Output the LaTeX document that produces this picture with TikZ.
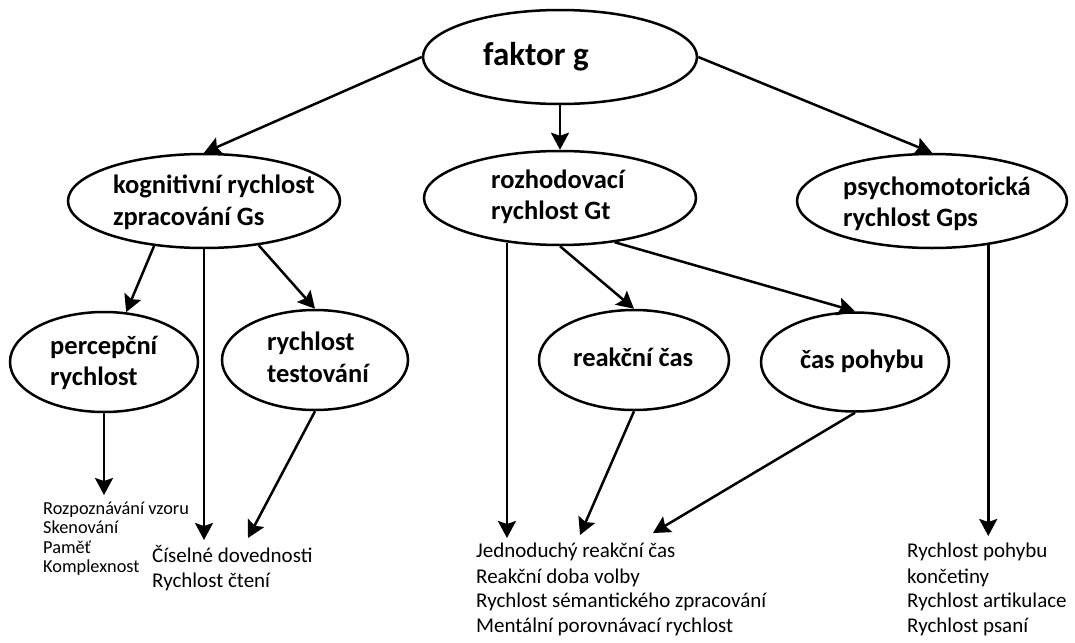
\documentclass[tikz,border=0pt]{standalone}
\usepackage{fontspec}
\setmainfont{Carlito}
\usetikzlibrary{shapes.geometric,arrows.meta}
\begin{document}
\begin{tikzpicture}[x=1pt,y=-1pt,
  oval/.style={ellipse, draw, line width=2.5pt, inner sep=0pt},
  arr/.style={-{Stealth[length=17pt,width=18pt,inset=3pt]}, line width=2.5pt},
  ttl/.style={anchor=base west, inner sep=0pt, font={\fontsize{33}{39}\selectfont\bfseries}},
  lbl/.style={anchor=base west, inner sep=0pt, font={\fontsize{26.5}{31}\selectfont\bfseries}},
  item/.style={anchor=base west, inner sep=0pt, font={\fontsize{21}{25}\selectfont}},
  small/.style={anchor=base west, inner sep=0pt, font={\fontsize{18.3}{20}\selectfont}}
]
\useasboundingbox (0,0) rectangle (1075,642);
% ellipses
\node[oval, minimum width=274pt, minimum height=94pt] (g) at (560,57) {};
\node[oval, minimum width=272pt, minimum height=94pt] (kog) at (204,201) {};
\node[oval, minimum width=272pt, minimum height=94pt] (rozh) at (560,198) {};
\node[oval, minimum width=270pt, minimum height=94pt] (psy) at (932,201) {};
\node[oval, minimum width=188pt, minimum height=100pt] (perc) at (104,362) {};
\node[oval, minimum width=186pt, minimum height=100pt] (test) at (315,360) {};
\node[oval, minimum width=190pt, minimum height=100pt] (reak) at (634,360) {};
\node[oval, minimum width=188pt, minimum height=99pt] (cas) at (855,362) {};
% labels
\node[ttl] (tg) at (483,66) {faktor g};
\node[lbl] (k1) at (113,193) {kognitivní rychlost};
\node[lbl] (k2) at (113,225) {zpracování Gs};
\node[lbl] (r1) at (491,188) {rozhodovací};
\node[lbl] (r2) at (491,219) {rychlost Gt};
\node[lbl] (p1) at (843,195) {psychomotorická};
\node[lbl] (p2) at (843,226) {rychlost Gps};
\node[lbl] (pc1) at (50,354) {percepční};
\node[lbl] (pc2) at (50,385) {rychlost};
\node[lbl] (ts1) at (267,350) {rychlost};
\node[lbl] (ts2) at (267,382) {testování};
\node[lbl] (rc) at (573,366) {reakční čas};
\node[lbl] (cp) at (800,368) {čas pohybu};
% lower texts
\node[small] (s1) at (43,514) {Rozpoznávání vzoru};
\node[small] (s2) at (43,533) {Skenování};
\node[small] (s3) at (43,553) {Paměť};
\node[small] (s4) at (43,572) {Komplexnost};
\node[item] (c1) at (152,562) {Číselné dovednosti};
\node[item] (c2) at (152,587) {Rychlost čtení};
\node[item] (m1) at (476,557) {Jednoduchý reakční čas};
\node[item] (m2) at (476,583) {Reakční doba volby};
\node[item] (m3) at (476,607) {Rychlost sémantického zpracování};
\node[item] (m4) at (476,632) {Mentální porovnávací rychlost};
\node[item] (q1) at (907,557) {Rychlost pohybu};
\node[item] (q2) at (907,583) {končetiny};
\node[item] (q3) at (907,607) {Rychlost artikulace};
\node[item] (q4) at (907,632) {Rychlost psaní};
% arrow tips
\coordinate (tP) at (104,495);
\coordinate (tK) at (204,540);
\coordinate (tT) at (248,538);
\coordinate (tR) at (508,538);
\coordinate (tRe) at (580,535);
\coordinate (tC) at (653,533);
\coordinate (tPs) at (987,536);
% connectors
\draw[arr] (g.west) -- (kog.north);
\draw[arr] (g.south) -- (rozh.north);
\draw[arr] (g.east) -- (psy.north);
\draw[arr] (kog.222) -- (perc.66);
\draw[arr] (kog.south) -- (kog.south |- tK);
\draw[arr] (kog.321) -- (test.north);
\draw[arr] (perc.south) -- (perc.south |- tP);
\draw[arr] (test.south) -- (tT);
\draw[arr] (rozh.220) -- (rozh.220 |- tR);
\draw[arr] (rozh.south) -- (reak.north);
\draw[arr] (rozh.321) -- (cas.north);
\draw[arr] (reak.south) -- (tRe);
\draw[arr] (cas.south) -- (tC);
\draw[arr] (psy.322) -- (psy.322 |- tPs);
\end{tikzpicture}
\end{document}
